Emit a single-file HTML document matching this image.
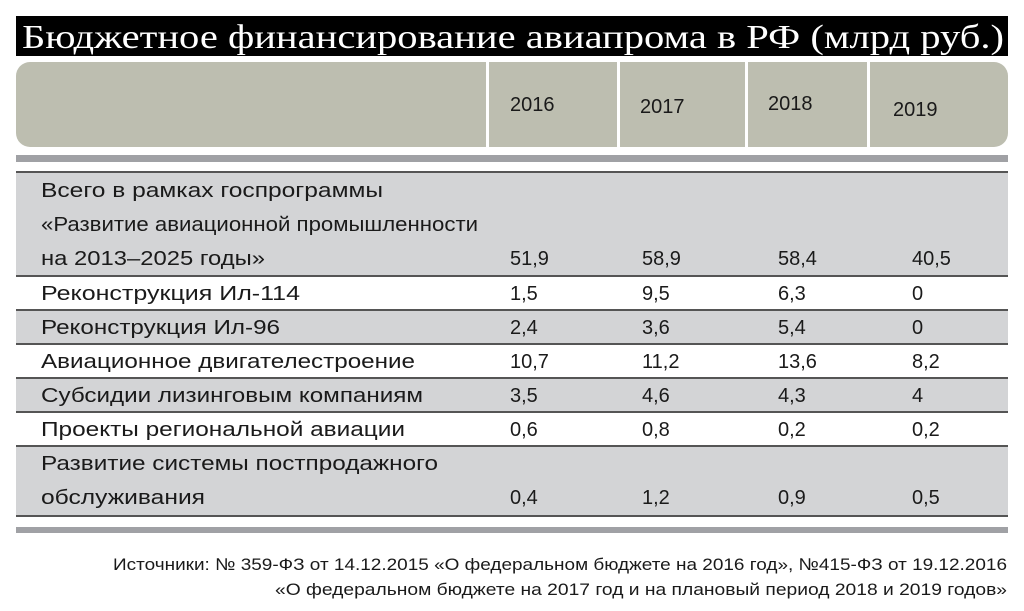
<!DOCTYPE html>
<html><head><meta charset="utf-8">
<style>
html,body{margin:0;padding:0;background:#fff;width:1024px;height:611px;overflow:hidden}
svg{display:block}
.t{font-family:"Liberation Sans","DejaVu Sans",sans-serif;font-size:20px;fill:#1a1a1a}
.ti{font-family:"Liberation Serif","DejaVu Serif",serif;font-size:34px;fill:#fff}
.f{font-family:"Liberation Sans","DejaVu Sans",sans-serif;font-size:17px;fill:#1a1a1a}
</style></head><body>
<svg width="1024" height="611" viewBox="0 0 1024 611">
<rect x="16" y="16" width="992" height="40" fill="#000"/>
<text class="ti" x="22" y="48" textLength="982" lengthAdjust="spacingAndGlyphs">Бюджетное финансирование авиапрома в РФ (млрд руб.)</text>

<rect x="16" y="62" width="992" height="85" rx="14" fill="#bdbeb0"/>
<g fill="#fff">
<rect x="486" y="62" width="3" height="85"/><rect x="617" y="62" width="3" height="85"/>
<rect x="745" y="62" width="3" height="85"/><rect x="867" y="62" width="3" height="85"/>
</g>
<text class="t" x="510" y="111">2016</text>
<text class="t" x="640" y="113">2017</text>
<text class="t" x="768" y="110">2018</text>
<text class="t" x="893" y="116">2019</text>

<rect x="16" y="155" width="992" height="7" fill="#a0a1a5"/>

<g>
<rect x="16" y="172" width="992" height="104" fill="#d3d4d6"/>
<rect x="16" y="310" width="992" height="34" fill="#d3d4d6"/>
<rect x="16" y="378" width="992" height="34" fill="#d3d4d6"/>
<rect x="16" y="446" width="992" height="70" fill="#d3d4d6"/>
</g>
<g fill="#555">
<rect x="16" y="171" width="992" height="2"/>
<rect x="16" y="275" width="992" height="2"/>
<rect x="16" y="309" width="992" height="2"/>
<rect x="16" y="343" width="992" height="2"/>
<rect x="16" y="377" width="992" height="2"/>
<rect x="16" y="411" width="992" height="2"/>
<rect x="16" y="445" width="992" height="2"/>
<rect x="16" y="515" width="992" height="2"/>
</g>
<rect x="16" y="527" width="992" height="6" fill="#a0a1a5"/>

<g>
<text class="t" x="41" y="197" textLength="342" lengthAdjust="spacingAndGlyphs">Всего в рамках госпрограммы</text>
<text class="t" x="41" y="231" textLength="437" lengthAdjust="spacingAndGlyphs">«Развитие авиационной промышленности</text>
<text class="t" x="41" y="265" textLength="224" lengthAdjust="spacingAndGlyphs">на 2013–2025 годы»</text>
<text class="t" x="41" y="300" textLength="259" lengthAdjust="spacingAndGlyphs">Реконструкция Ил-114</text>
<text class="t" x="41" y="334" textLength="239" lengthAdjust="spacingAndGlyphs">Реконструкция Ил-96</text>
<text class="t" x="41" y="368" textLength="374" lengthAdjust="spacingAndGlyphs">Авиационное двигателестроение</text>
<text class="t" x="41" y="402" textLength="382" lengthAdjust="spacingAndGlyphs">Субсидии лизинговым компаниям</text>
<text class="t" x="41" y="436" textLength="364" lengthAdjust="spacingAndGlyphs">Проекты региональной авиации</text>
<text class="t" x="41" y="470" textLength="397" lengthAdjust="spacingAndGlyphs">Развитие системы постпродажного</text>
<text class="t" x="41" y="504" textLength="164" lengthAdjust="spacingAndGlyphs">обслуживания</text>
</g>

<g>
<text class="t" x="510" y="265">51,9</text><text class="t" x="642" y="265">58,9</text><text class="t" x="778" y="265">58,4</text><text class="t" x="912" y="265">40,5</text>
<text class="t" x="510" y="300">1,5</text><text class="t" x="642" y="300">9,5</text><text class="t" x="778" y="300">6,3</text><text class="t" x="912" y="300">0</text>
<text class="t" x="510" y="334">2,4</text><text class="t" x="642" y="334">3,6</text><text class="t" x="778" y="334">5,4</text><text class="t" x="912" y="334">0</text>
<text class="t" x="510" y="368">10,7</text><text class="t" x="642" y="368">11,2</text><text class="t" x="778" y="368">13,6</text><text class="t" x="912" y="368">8,2</text>
<text class="t" x="510" y="402">3,5</text><text class="t" x="642" y="402">4,6</text><text class="t" x="778" y="402">4,3</text><text class="t" x="912" y="402">4</text>
<text class="t" x="510" y="436">0,6</text><text class="t" x="642" y="436">0,8</text><text class="t" x="778" y="436">0,2</text><text class="t" x="912" y="436">0,2</text>
<text class="t" x="510" y="504">0,4</text><text class="t" x="642" y="504">1,2</text><text class="t" x="778" y="504">0,9</text><text class="t" x="912" y="504">0,5</text>
</g>

<g>
<text class="f" x="113" y="570" textLength="894" lengthAdjust="spacingAndGlyphs">Источники: № 359-ФЗ от 14.12.2015 «О федеральном бюджете на 2016 год», №415-ФЗ от 19.12.2016</text>
<text class="f" x="275" y="595" textLength="732" lengthAdjust="spacingAndGlyphs">«О федеральном бюджете на 2017 год и на плановый период 2018 и 2019 годов»</text>
</g>
</svg>
</body></html>
